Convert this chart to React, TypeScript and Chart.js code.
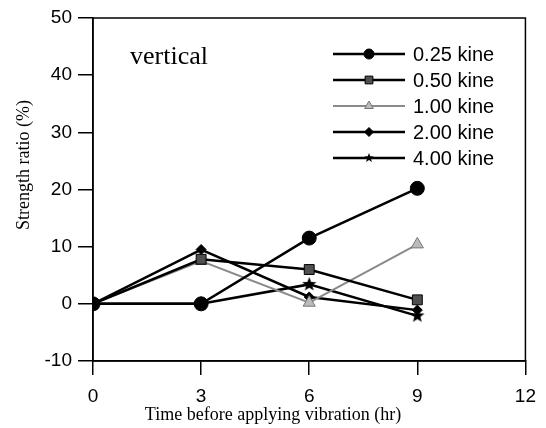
import React, { useEffect, useRef } from "react";
import { Chart, registerables } from "chart.js";
import { drawPoint } from "chart.js/helpers";

Chart.register(...registerables);

const xTicks = [0, 3, 6, 9, 12];
const times = [0, 3, 6, 9];
const labels = ["0.25 kine", "0.50 kine", "1.00 kine", "2.00 kine", "4.00 kine"];
const s025 = [0, 0, 11.5, 20.2];
const s050 = [0, 7.8, 6.0, 0.7];
const s100 = [0, 7.5, 0.2, 10.4];
const s200 = [0, 9.5, 1.2, -1.1];
const s400 = [0, 0, 3.4, -2.1];
const xTitle = "Time before applying vibration (hr)";
const yTitle = "Strength ratio (%)";
const panelLabel = "vertical";

const series = [s025, s050, s100, s200, s400];

function makeStar(size: number) {
  const c = document.createElement("canvas");
  c.width = size;
  c.height = size;
  const ctx = c.getContext("2d")!;
  const cx = size / 2, cy = size / 2, R = size / 2, r = R * 0.42;
  ctx.beginPath();
  for (let i = 0; i < 10; i++) {
    const a = -Math.PI / 2 + (i * Math.PI) / 5;
    const rad = i % 2 === 0 ? R : r;
    const px = cx + rad * Math.cos(a), py = cy + rad * Math.sin(a);
    if (i === 0) ctx.moveTo(px, py); else ctx.lineTo(px, py);
  }
  ctx.closePath();
  ctx.fillStyle = "#000";
  ctx.fill();
  return c;
}

const sansFont = "'Liberation Sans', Arial, sans-serif";
const serifFont = "'Liberation Serif', 'Times New Roman', serif";

export default function App() {
  const ref = useRef<HTMLCanvasElement>(null);
  useEffect(() => {
    const starBig = makeStar(15);
    const starSmall = makeStar(10);
    const styles: any[] = [
      { pointStyle: "circle", radius: 7, lr: 5, border: "#000", fill: "#000", line: "#000", lw: 2.5 },
      { pointStyle: "rect", radius: 7, lr: 5.5, border: "#000", fill: "#505050", line: "#000", lw: 2.5 },
      { pointStyle: "triangle", radius: 7, lr: 5, border: "#777", fill: "#bbb", line: "#8a8a8a", lw: 2 },
      { pointStyle: "rectRot", radius: 5, lr: 4.5, border: "#000", fill: "#000", line: "#000", lw: 2.5 },
      { pointStyle: starBig, legendStyle: starSmall, radius: 7, lr: 5, border: "#000", fill: "#000", line: "#000", lw: 2.5 },
    ];

    const framePlugin = {
      id: "frame",
      afterDraw(chart: any) {
        const { ctx, chartArea } = chart;
        ctx.save();
        ctx.strokeStyle = "#000";
        ctx.lineWidth = 1.5;
        ctx.strokeRect(chartArea.left, chartArea.top, chartArea.right - chartArea.left, chartArea.bottom - chartArea.top);
        ctx.fillStyle = "#000";
        ctx.font = `26px ${serifFont}`;
        ctx.textAlign = "left";
        ctx.textBaseline = "middle";
        ctx.fillText(panelLabel, 130, 57);
        // axis titles
        ctx.font = `18px ${serifFont}`;
        ctx.textAlign = "center";
        ctx.fillText(xTitle, 273, 415);
        ctx.save();
        ctx.translate(24, 165);
        ctx.rotate(-Math.PI / 2);
        ctx.fillText(yTitle, 0, 0);
        ctx.restore();
        // legend
        ctx.font = `20px ${sansFont}`;
        ctx.textAlign = "left";
        chart.data.datasets.forEach((ds: any, i: number) => {
          const y = 54 + i * 26;
          const st = styles[i];
          ctx.beginPath();
          ctx.strokeStyle = st.line;
          ctx.lineWidth = st.lw;
          ctx.moveTo(333, y);
          ctx.lineTo(405, y);
          ctx.stroke();
          ctx.fillStyle = st.fill;
          ctx.strokeStyle = st.border;
          ctx.lineWidth = 1;
          drawPoint(ctx, { pointStyle: (st.legendStyle || st.pointStyle) as any, radius: st.lr, rotation: 0, borderWidth: 1 }, 369, y);
          ctx.fillStyle = "#000";
          ctx.fillText(ds.label, 413, y + 1);
        });
        ctx.restore();
      },
    };

    const chart = new Chart(ref.current!, {
      type: "line",
      data: {
        datasets: series.map((vals, i) => ({
          label: labels[i],
          data: times.map((t, j) => ({ x: t, y: vals[j] })),
          borderColor: styles[i].line,
          borderWidth: styles[i].lw,
          pointStyle: styles[i].pointStyle as any,
          pointRadius: styles[i].radius,
          pointBackgroundColor: styles[i].fill,
          pointBorderColor: styles[i].border,
          pointBorderWidth: 1,
          tension: 0,
        })),
      },
      options: {
        animation: false,
        responsive: false,
        layout: { padding: { top: 18, right: 19, left: 0, bottom: 0 } },
        plugins: { legend: { display: false }, tooltip: { enabled: false } },
        scales: {
          x: {
            type: "linear",
            min: 0,
            max: 12,
            afterBuildTicks: (scale: any) => {
              scale.ticks = xTicks.map((v) => ({ value: v }));
            },
            afterFit: (scale: any) => {
              scale.height = 67;
            },
            grid: { drawOnChartArea: false, tickLength: 14, color: "#000", lineWidth: 1.5 },
            border: { display: true, color: "#000", width: 1.5 },
            ticks: { color: "#000", font: { family: sansFont, size: 19 }, padding: 10, maxRotation: 0 },
          },
          y: {
            min: -10,
            max: 50,
            afterFit: (scale: any) => {
              scale.width = 93;
            },
            grid: { drawOnChartArea: false, tickLength: 15, color: "#000", lineWidth: 1.5 },
            border: { display: true, color: "#000", width: 1.5 },
            ticks: { stepSize: 10, color: "#000", font: { family: sansFont, size: 19 }, padding: 6 },
          },
        },
      },
      plugins: [framePlugin],
    });
    return () => chart.destroy();
  }, []);
  return (
    <div style={{ position: "fixed", left: 0, top: 0, width: 546, height: 428, background: "#fff" }}>
      <canvas ref={ref} width={546} height={428} />
    </div>
  );
}
